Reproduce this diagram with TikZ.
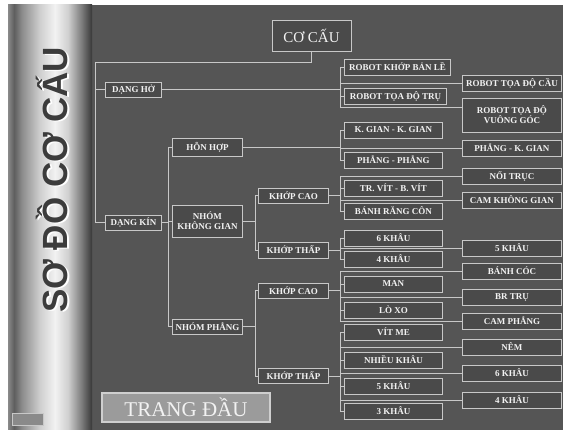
\documentclass[tikz,border=0pt]{standalone}
\usepackage{fontspec}
\setmainfont{Liberation Serif}
\newfontfamily\titlefont{Liberation Sans}
\definecolor{bgc}{HTML}{555555}
\definecolor{boxc}{HTML}{4A4A4A}
\definecolor{linec}{HTML}{C8C8C8}
\definecolor{txtc}{HTML}{F2F2F2}
\definecolor{cA}{HTML}{8A8A8A}
\definecolor{cB}{HTML}{5E5E5E}
\definecolor{cC}{HTML}{8C8C8C}
\definecolor{cD}{HTML}{CFCFCF}
\definecolor{cE}{HTML}{F2F2F2}
\definecolor{cF}{HTML}{D0D0D0}
\definecolor{cG}{HTML}{7A7A7A}
\definecolor{cH}{HTML}{383838}
\definecolor{tdfill}{HTML}{9B9B9B}
\definecolor{tdline}{HTML}{CFCFCF}
\definecolor{titlec}{HTML}{3C3C3C}
\pgfdeclarehorizontalshading{cyl}{100bp}{color(0bp)=(cA); color(25bp)=(cA); color(28.6bp)=(cB); color(33.3bp)=(cC); color(44bp)=(cD); color(53bp)=(cE); color(60.7bp)=(cF); color(69bp)=(cG); color(75bp)=(cH); color(100bp)=(cH)}
\begin{document}
\begin{tikzpicture}[x=1pt,y=-1pt,
  box/.style={draw=linec, line width=0.8pt, fill=boxc, text=txtc,
    font=\fontsize{9}{10}\selectfont\bfseries, inner sep=1pt, align=center,
    minimum height=16pt, anchor=west},
  mid/.style={box, minimum width=98pt},
  rgt/.style={box, minimum width=99pt},
  ctwo/.style={box, minimum width=70pt},
  conn/.style={draw=linec, line width=0.7pt}]
\useasboundingbox (0,0) rectangle (563,430);
\fill[white] (0,0) rectangle (563,430);
\fill[bgc] (90,5) rectangle (563,430);
\shade[shading=cyl] (8,5) rectangle (92,430);

% title on cylinder
\node[rotate=90, font={\titlefont\fontsize{35}{36}\selectfont\bfseries}, text=white] (titleshadow) at (54,181) {SƠ ĐỒ CƠ CẤU};
\node[rotate=90, font={\titlefont\fontsize{35}{36}\selectfont\bfseries}, text=titlec] (title) at (52,180) {SƠ ĐỒ CƠ CẤU};

% root
\node[draw=linec, line width=0.8pt, fill=boxc, text=txtc, font=\fontsize{15}{16}\selectfont,
  minimum width=79pt, minimum height=31pt, inner sep=0pt] (cc) at (311.5,35.5) {CƠ CẤU};

% level 1
\node[box, minimum width=56pt, minimum height=15pt] (dh) at (105,89.5) {DẠNG HỞ};
\node[box, minimum width=56pt, minimum height=15pt] (dk) at (105,222.5) {DẠNG KÍN};

% level 2
\node[ctwo, minimum height=18pt] (hh) at (172,147) {HỖN HỢP};
\node[ctwo, minimum height=32pt] (nkg) at (172,221) {NHÓM\\KHÔNG GIAN};
\node[ctwo, minimum height=15pt] (np) at (172,326.5) {NHÓM PHẲNG};

% level 3
\node[ctwo, minimum height=15pt] (kc1) at (258,195.5) {KHỚP CAO};
\node[ctwo] (kt1) at (258,250) {KHỚP THẤP};
\node[ctwo, minimum height=15pt] (kc2) at (258,290.5) {KHỚP CAO};
\node[ctwo, minimum height=15pt] (kt2) at (258,376) {KHỚP THẤP};

% middle column
\node[box, minimum width=106pt] (kbl) at (344,67) {ROBOT KHỚP BẢN LỀ};
\node[box, minimum width=102pt] (tdt) at (344,96) {ROBOT TỌA ĐỘ TRỤ};
\node[mid] (kgkg) at (344,130) {K. GIAN - K. GIAN};
\node[mid] (pp) at (344,160) {PHẲNG - PHẲNG};
\node[mid] (trv) at (344,188) {TR. VÍT - B. VÍT};
\node[mid] (brc) at (344,211) {BÁNH RĂNG CÔN};
\node[mid] (m6k) at (344,238) {6 KHÂU};
\node[mid] (m4k) at (344,259) {4 KHÂU};
\node[mid] (man) at (344,284) {MAN};
\node[mid] (lx) at (344,310) {LÒ XO};
\node[mid] (vm) at (344,332) {VÍT ME};
\node[mid] (nk) at (344,360) {NHIỀU KHÂU};
\node[mid] (m5k) at (344,386) {5 KHÂU};
\node[mid] (m3k) at (344,411) {3 KHÂU};

% right column
\node[rgt] (tdc) at (462,83) {ROBOT TỌA ĐỘ CẦU};
\node[rgt, minimum height=34pt] (vg) at (462,115) {ROBOT TỌA ĐỘ\\VUÔNG GÓC};
\node[rgt] (pkg) at (462,148) {PHẲNG - K. GIAN};
\node[rgt] (nt) at (462,176) {NỐI TRỤC};
\node[rgt] (ckg) at (462,200) {CAM KHÔNG GIAN};
\node[rgt] (r5k) at (462,248) {5 KHÂU};
\node[rgt] (bc) at (462,271) {BÁNH CÓC};
\node[rgt] (brt) at (462,297) {BR TRỤ};
\node[rgt] (cp) at (462,321) {CAM PHẲNG};
\node[rgt] (nem) at (462,347) {NÊM};
\node[rgt] (r6k) at (462,373) {6 KHÂU};
\node[rgt] (r4k) at (462,400) {4 KHÂU};

% trang dau + icon
\node[draw=tdline, line width=1.5pt, fill=tdfill, text=txtc, font=\fontsize{21}{22}\selectfont,
  minimum width=168pt, minimum height=29pt, inner sep=0pt] (td) at (186,407.5) {TRANG ĐẦU};
\node[draw=linec, line width=0.8pt, fill=cA, minimum width=31pt, minimum height=12pt, inner sep=0pt] (icon) at (27.5,419) {};

% helper coordinates
\coordinate (j0) at (95,62);
\coordinate (lxa) at (168,0);
\coordinate (lxb) at (255,0);
\coordinate (mx) at (340,0);
\coordinate (vgin) at (462,107);

% root connections
\draw[conn] (cc.south) |- (j0);
\draw[conn] (j0) |- (dk.west);
\draw[conn] (dh.west -| j0) -- (dh.west);

% dang ho group
\draw[conn] (dh.east) -- (dh.east -| mx);
\draw[conn] (kbl.west -| mx) -- (vgin -| mx);
\draw[conn] (vgin -| mx) -- (vgin);
\foreach \n in {kbl,tdt,tdc} \draw[conn] (\n.west -| mx) -- (\n.west);

% dang kin
\draw[conn] (dk.east) -- (dk.east -| lxa);
\draw[conn] (hh.west -| lxa) -- (np.west -| lxa);
\foreach \n in {hh,nkg,np} \draw[conn] (\n.west -| lxa) -- (\n.west);

% hon hop
\draw[conn] (hh.east) -- (hh.east -| mx);
\draw[conn] (kgkg.west -| mx) -- (pp.west -| mx);
\foreach \n in {kgkg,pp,pkg} \draw[conn] (\n.west -| mx) -- (\n.west);

% nhom khong gian
\draw[conn] (nkg.east) -- (nkg.east -| lxb);
\draw[conn] (kc1.west -| lxb) -- (kt1.west -| lxb);
\foreach \n in {kc1,kt1} \draw[conn] (\n.west -| lxb) -- (\n.west);

% nhom phang
\draw[conn] (np.east) -- (np.east -| lxb);
\draw[conn] (kc2.west -| lxb) -- (kt2.west -| lxb);
\foreach \n in {kc2,kt2} \draw[conn] (\n.west -| lxb) -- (\n.west);

% khop cao 1
\draw[conn] (kc1.east) -- (kc1.east -| mx);
\draw[conn] (nt.west -| mx) -- (brc.west -| mx);
\foreach \n in {nt,trv,ckg,brc} \draw[conn] (\n.west -| mx) -- (\n.west);

% khop thap 1
\draw[conn] (kt1.east) -- (kt1.east -| mx);
\draw[conn] (m6k.west -| mx) -- (m4k.west -| mx);
\foreach \n in {m6k,m4k,r5k} \draw[conn] (\n.west -| mx) -- (\n.west);

% khop cao 2
\draw[conn] (kc2.east) -- (kc2.east -| mx);
\draw[conn] (bc.west -| mx) -- (cp.west -| mx);
\foreach \n in {bc,man,brt,lx,cp} \draw[conn] (\n.west -| mx) -- (\n.west);

% khop thap 2
\draw[conn] (kt2.east) -- (kt2.east -| mx);
\draw[conn] (vm.west -| mx) -- (m3k.west -| mx);
\foreach \n in {vm,nem,nk,r6k,m5k,r4k,m3k} \draw[conn] (\n.west -| mx) -- (\n.west);
\end{tikzpicture}
\end{document}
